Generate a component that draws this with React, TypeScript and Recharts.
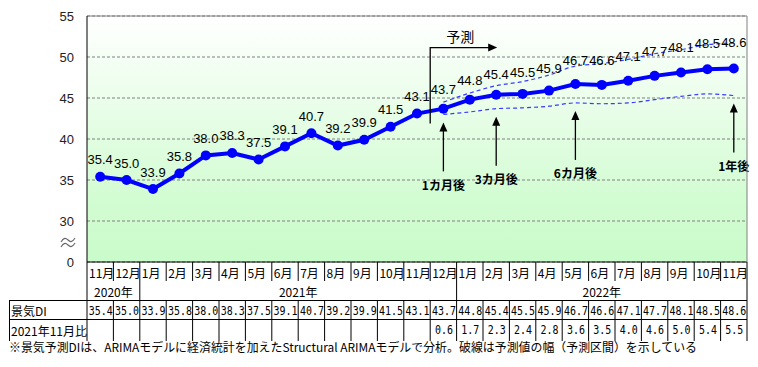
import React from 'react';
import {
  LineChart,
  Line,
  XAxis,
  YAxis,
  CartesianGrid,
  ReferenceLine,
  ReferenceDot,
  LabelList,
} from 'recharts';

// categories (year-month keys) and their axis labels
const MONTH_KEYS = [
  '2020-11', '2020-12',
  '2021-01', '2021-02', '2021-03', '2021-04', '2021-05', '2021-06',
  '2021-07', '2021-08', '2021-09', '2021-10', '2021-11', '2021-12',
  '2022-01', '2022-02', '2022-03', '2022-04', '2022-05', '2022-06',
  '2022-07', '2022-08', '2022-09', '2022-10', '2022-11',
];
const MONTH_LABELS = [
  '11月', '12月',
  '1月', '2月', '3月', '4月', '5月', '6月', '7月', '8月', '9月', '10月', '11月', '12月',
  '1月', '2月', '3月', '4月', '5月', '6月', '7月', '8月', '9月', '10月', '11月',
];
const YEAR_LABELS = ['2020年', '2021年', '2022年'];
const YEAR_START = [0, 2, 14];
const YEAR_SPAN = [2, 12, 11];

// 景気DI (actual + forecast)
const DI = [
  35.4, 35.0, 33.9, 35.8, 38.0, 38.3, 37.5, 39.1, 40.7, 39.2, 39.9, 41.5, 43.1,
  43.7, 44.8, 45.4, 45.5, 45.9, 46.7, 46.6, 47.1, 47.7, 48.1, 48.5, 48.6,
];
// 2021年11月比
const DIFF: (number | null)[] = [
  null, null, null, null, null, null, null, null, null, null, null, null, null,
  0.6, 1.7, 2.3, 2.4, 2.8, 3.6, 3.5, 4.0, 4.6, 5.0, 5.4, 5.5,
];
// forecast interval (dashed)
const UPPER: (number | null)[] = [
  null, null, null, null, null, null, null, null, null, null, null, null, null,
  44.5, 45.6, 46.5, 47.0, 47.8, 48.9, 49.2, 49.7, 50.4, 50.9, 51.5, 51.7,
];
const LOWER: (number | null)[] = [
  null, null, null, null, null, null, null, null, null, null, null, null, null,
  43.0, 43.3, 43.7, 43.8, 44.0, 44.4, 44.3, 44.4, 44.8, 45.2, 45.5, 45.3,
];

const Y_TICK_LABELS = [0, 30, 35, 40, 45, 50, 55];
const NOTE_KEYS = ['2021-12', '2022-02', '2022-05', '2022-11'];
const NOTE_LABELS = ['1カ月後', '3カ月後', '6カ月後', '1年後'];
const FORECAST_FROM = '2021-11';

// axis break: 0〜30 collapsed into one step
const BREAK = 25;
const toAxis = (v: number | null) => (v == null ? null : v === 0 ? 0 : v - BREAK);

const W = 758;
const H = 367;
const TOP = 16;
const X_AXIS_H = 105;
const LEFT_W = 87;
const RIGHT_GAP = 11;
const PLOT_L = LEFT_W;
const PLOT_R = W - RIGHT_GAP;
const PLOT_B = H - X_AXIS_H;
const CW = (PLOT_R - PLOT_L) / MONTH_KEYS.length;
const PX_PER_UNIT = (PLOT_B - TOP) / 30;

const JP = '"Noto Sans CJK JP", sans-serif';
const NUM = '"Liberation Sans", Arial, sans-serif';
const MONO = '"DejaVu Sans Mono", "Liberation Mono", monospace';

const data = MONTH_KEYS.map((key, i) => ({
  key,
  di: toAxis(DI[i]),
  upper: toAxis(UPPER[i]),
  lower: toAxis(LOWER[i]),
}));

const YTick = (p: any) => {
  const v = p.payload.value;
  const label = v === 0 ? '0' : String(v + BREAK);
  const x = p.x - 13;
  return (
    <g>
      <text x={x} y={p.y} textAnchor="end" dominantBaseline="central"
        fontSize={13} fontFamily={NUM} fill="#222">{label}</text>
      {v === 0 && (
        <g fill="none" stroke="#666" strokeWidth={1.1}>
          <path d={`M${x - 13},${p.y - 20} c3,-5 5,-4 7,-2 s4,3 7,-2`} />
          <path d={`M${x - 13},${p.y - 15} c3,-5 5,-4 7,-2 s4,3 7,-2`} />
        </g>
      )}
    </g>
  );
};

const TableTick = (p: any) => {
  const i = MONTH_KEYS.indexOf(p.payload.value);
  const cx = p.x;
  const left = cx - CW / 2;
  const right = cx + CW / 2;
  const r1 = PLOT_B, r2 = 281, r3 = 300, r4 = 319, r5 = 341;
  const ln = { stroke: '#000', strokeWidth: 1 };
  const yi = YEAR_START.indexOf(i);
  const last = i === MONTH_KEYS.length - 1;
  return (
    <g>
      <line x1={left} x2={left} y1={r1} y2={r2} {...ln} />
      <line x1={left} x2={left} y1={r3} y2={r5} {...ln} />
      {yi >= 0 && <line x1={left} x2={left} y1={r2} y2={r3} {...ln} />}
      {last && <line x1={right} x2={right} y1={r1} y2={r5} {...ln} />}
      {last && <line x1={right} x2={right} y1={TOP} y2={r1} stroke="#808080" />}
      <text x={left + 2} y={(r1 + r2) / 2 + 1} dominantBaseline="central"
        fontSize={12} fontFamily={JP} fill="#000">{MONTH_LABELS[i]}</text>
      {yi >= 0 && (
        <text x={left + (YEAR_SPAN[yi] * CW) / 2} y={(r2 + r3) / 2 + 1}
          textAnchor="middle" dominantBaseline="central"
          fontSize={12} fontFamily={JP} fill="#000">{YEAR_LABELS[yi]}</text>
      )}
      <text x={cx + 0.5} y={(r3 + r4) / 2 + 1} textAnchor="middle" dominantBaseline="central"
        fontSize={12} fontFamily={MONO} fill="#000" textLength={24}
        lengthAdjust="spacingAndGlyphs">{DI[i].toFixed(1)}</text>
      {DIFF[i] != null && (
        <text x={cx + 0.5} y={(r4 + r5) / 2} textAnchor="middle" dominantBaseline="central"
          fontSize={12} fontFamily={MONO} fill="#000" textLength={18}
          lengthAdjust="spacingAndGlyphs">{(DIFF[i] as number).toFixed(1)}</text>
      )}
      {i === 0 && (
        <g>
          <line x1={9} x2={PLOT_R} y1={r3 + 0.5} y2={r3 + 0.5} {...ln} />
          <line x1={9} x2={PLOT_R} y1={r4 + 0.5} y2={r4 + 0.5} {...ln} />
          <line x1={9.5} x2={9.5} y1={r3} y2={r5} {...ln} />
          <text x={11} y={(r3 + r4) / 2 + 1} dominantBaseline="central"
            fontSize={12} fontFamily={JP} fill="#000">景気DI</text>
          <text x={11} y={(r4 + r5) / 2} dominantBaseline="central"
            fontSize={12} fontFamily={JP} fill="#000">2021年11月比</text>
          <text x={9} y={352} fontSize={12} fontFamily={JP} fill="#000"
            textLength={688} lengthAdjust="spacingAndGlyphs">
            ※景気予測DIは、ARIMAモデルに経済統計を加えたStructural ARIMAモデルで分析。破線は予測値の幅（予測区間）を示している
          </text>
        </g>
      )}
    </g>
  );
};

const renderValue = (p: any) => {
  const x = p.x ?? p.viewBox?.x;
  const y = p.y ?? p.viewBox?.y;
  const i = p.index ?? Math.round((x - PLOT_L - CW / 2) / CW);
  const di = DI[i];
  const up = UPPER[i];
  // forecast labels sit a little higher, near the upper band
  const gap = up != null ? (up - di) * PX_PER_UNIT : 0;
  const off = 17 + 0.35 * gap;
  return (
    <text x={x} y={y - off} textAnchor="middle" dominantBaseline="central"
      fontSize={13} fontFamily={NUM} fill="#000">
      {di.toFixed(1)}
    </text>
  );
};

const noteShape = (label: string) => (p: any) => {
  const { cx, cy } = p;
  const tip = cy + 8;
  return (
    <g>
      <polygon points={`${cx},${tip} ${cx - 4},${tip + 9} ${cx + 4},${tip + 9}`} fill="#000" />
      <line x1={cx} x2={cx} y1={tip + 8} y2={cy + 57} stroke="#000" strokeWidth={1.3} />
      <text x={cx} y={cy + 70} textAnchor="middle" dominantBaseline="central"
        fontSize={12} fontWeight={700} fontFamily={JP} fill="#000">{label}</text>
    </g>
  );
};

const forecastShape = (p: any) => {
  const x = p.cx + CW / 2;
  const bottom = p.cy + 10;
  const top = p.cy - 66;
  const end = x + 67;
  return (
    <g>
      <polyline points={`${x},${bottom} ${x},${top} ${end - 8},${top}`}
        fill="none" stroke="#000" strokeWidth={1.3} />
      <polygon points={`${end},${top} ${end - 9},${top - 4} ${end - 9},${top + 4}`} fill="#000" />
      <text x={x + 30} y={top - 12} textAnchor="middle" dominantBaseline="central"
        fontSize={14} fontFamily={JP} fill="#000">予測</text>
    </g>
  );
};

export default function App() {
  return (
    <div style={{ position: 'absolute', left: 0, top: 0, width: W, height: H }}>
      <LineChart width={W} height={H} data={data}
        margin={{ top: TOP, right: RIGHT_GAP, bottom: 0, left: 0 }}>
        <defs>
          <linearGradient id="plotBg" x1="0" y1="0" x2="0" y2="1">
            <stop offset="0%" stopColor="#ffffff" />
            <stop offset="75%" stopColor="#d2fcd2" />
            <stop offset="100%" stopColor="#cafbca" />
          </linearGradient>
        </defs>
        <CartesianGrid vertical={false} stroke="#808080" strokeDasharray="3 2"
          fill="url(#plotBg)" fillOpacity={1} />
        <XAxis dataKey="key" interval={0} height={X_AXIS_H} tickLine={false}
          padding={{ left: CW / 2, right: CW / 2 }}
          axisLine={{ stroke: '#000' }} tick={<TableTick />} />
        <YAxis width={LEFT_W} domain={[0, 30]} ticks={Y_TICK_LABELS.map((v) => toAxis(v) as number)}
          tickLine={false} tickSize={0} tickMargin={0} axisLine={{ stroke: '#000' }}
          tick={<YTick />} allowDataOverflow />
        <ReferenceLine y={30} stroke="#808080" />
        <Line dataKey="upper" type="monotone" stroke="#3a3aff" strokeWidth={1.2}
          strokeDasharray="4 3" dot={false} activeDot={false} isAnimationActive={false} />
        <Line dataKey="lower" type="monotone" stroke="#3a3aff" strokeWidth={1.2}
          strokeDasharray="4 3" dot={false} activeDot={false} isAnimationActive={false} />
        <Line dataKey="di" type="linear" stroke="#0000ff" strokeWidth={4}
          dot={{ r: 5, fill: '#0000ff', stroke: 'none' }} activeDot={false}
          isAnimationActive={false}>
          <LabelList dataKey="di" content={renderValue} />
        </Line>
        <ReferenceDot x={FORECAST_FROM}
          y={toAxis(DI[MONTH_KEYS.indexOf(FORECAST_FROM)]) as number}
          shape={forecastShape} />
        {NOTE_KEYS.map((k, n) => (
          <ReferenceDot key={k} x={k} y={toAxis(LOWER[MONTH_KEYS.indexOf(k)]) as number}
            shape={noteShape(NOTE_LABELS[n])} />
        ))}
      </LineChart>
    </div>
  );
}
